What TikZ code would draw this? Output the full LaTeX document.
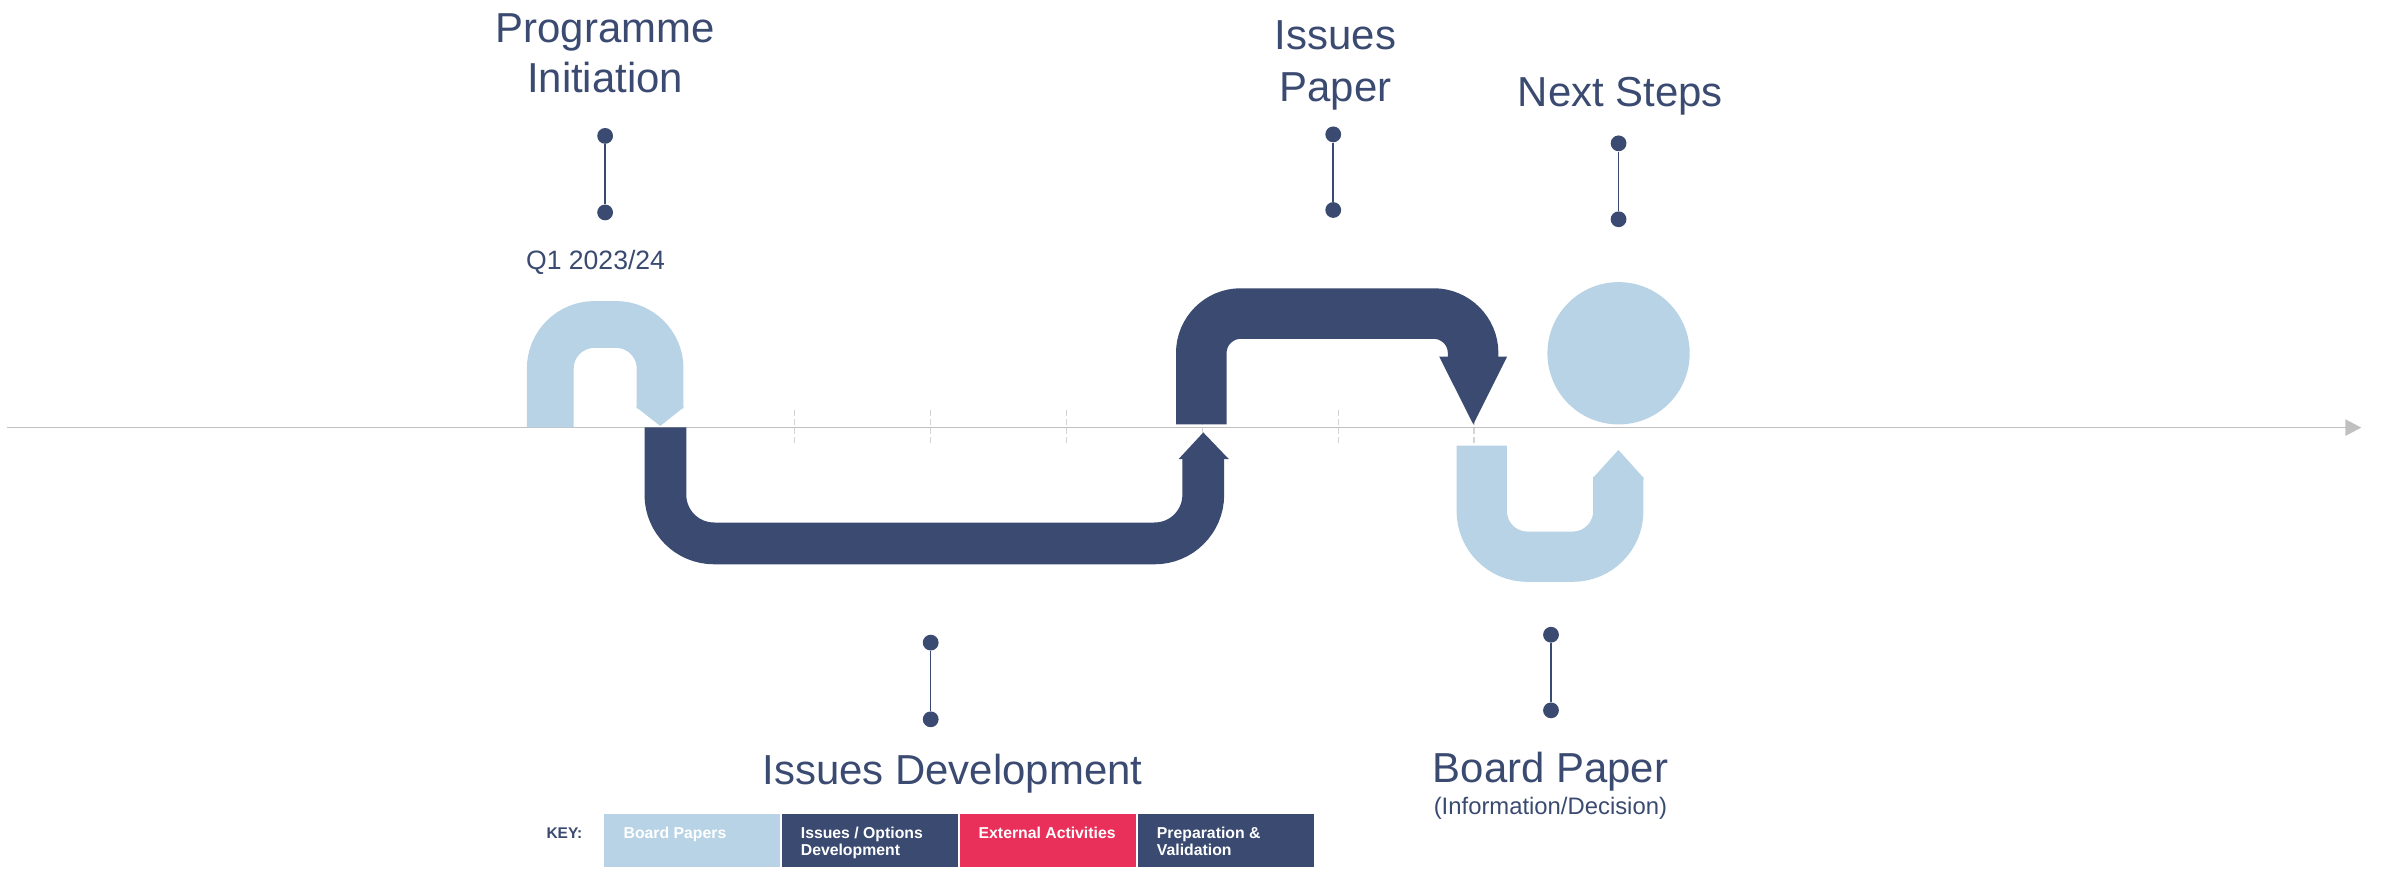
\documentclass[tikz,border=0pt]{standalone}
\usepackage{fontspec}
\setmainfont{Liberation Sans}
\usetikzlibrary{arrows.meta}
\definecolor{navy}{RGB}{58,74,112}
\definecolor{lightblue}{RGB}{184,211,229}
\definecolor{crimson}{RGB}{232,48,90}
\definecolor{axisgray}{RGB}{192,192,192}
\definecolor{tickgray}{RGB}{212,212,212}
\begin{document}
\begin{tikzpicture}[x=1pt,y=-1pt,
  title/.style={anchor=base, text=navy, inner sep=0pt, font=\fontsize{27.6}{33}\selectfont},
  subtitle/.style={anchor=base, text=navy, inner sep=0pt, font=\fontsize{#1}{#1}\selectfont},
  dot/.style={circle, fill=navy, inner sep=0pt, minimum size=10.4pt},
  conn/.style={draw=navy, line width=1pt},
  tickline/.style={draw=tickgray, line width=0.7pt, dash pattern=on 4pt off 2pt},
  keybox/.style={inner sep=0pt, minimum width=115.6pt, minimum height=34.7pt},
  keytext/.style={anchor=base west, text=white, inner sep=0pt, font=\fontsize{10.4}{12}\selectfont\bfseries},
  band/.style={line width=#1, line cap=butt, line join=miter}
]
\fill[white] (0,0) rectangle (1568,574.25);
\useasboundingbox (0,0) rectangle (1568,574.25);

% ticks and axis
\foreach \x in {523.2,612.7,702.2,791.7,881.2,970.7}
  \draw[tickline] (\x,270) -- (\x,293);
\coordinate (axstart) at (4.8,281.6);
\coordinate (axend) at (1555,281.6);
\draw[axisgray, line width=1.1pt, -{Triangle[length=10.5pt,width=10.7pt]}] (axstart) -- (axend);

% light U 1 (Programme Initiation)
\draw[lightblue, band=30.8pt, rounded corners=29pt] (362.4,281.5) -- (362.4,213.7) -- (434.7,213.7) -- (434.7,268.9);
\fill[lightblue] (419.3,267.5) -- (450.1,267.5) -- (450.1,268.4) -- (434.8,280.5) -- (419.3,268.4) -- cycle;

% dark path 1 (Issues Development)
\draw[navy, band=27.5pt, rounded corners=32pt] (438.2,281.5) -- (438.2,357.85) -- (792.4,357.85) -- (792.4,302.0);
\fill[navy] (776.1,302.4) -- (809.3,302.4) -- (792.4,284.8) -- cycle;

% dark path 2 (Issues Paper)
\draw[navy, band=33.3pt, rounded corners=26pt] (791.1,279.5) -- (791.1,206.5) -- (970.1,206.5) -- (970.1,235.4);
\fill[navy] (947.8,234.9) -- (992.5,234.9) -- (970.2,279.4) -- cycle;

% circle (Next Steps)
\fill[lightblue] (1065.9,232.65) circle (46.85pt);

% light U 2 (Board Paper)
\draw[lightblue, band=33.1pt, rounded corners=30pt] (975.8,293.5) -- (975.8,366.6) -- (1065.7,366.6) -- (1065.7,314.1);
\fill[lightblue] (1049.15,316) -- (1049.15,314.6) -- (1065.8,296.3) -- (1082.25,314.6) -- (1082.25,316) -- cycle;

% titles
\node[title] (prog1) at (398.5,27.7) {Programme};
\node[title] (prog2) at (398.5,61.2) {Initiation};
\node[subtitle=17.5] (q1) at (392.2,177.7) {Q1 2023/24};
\node[title] (ip1) at (879.5,32.9) {Issues};
\node[title] (ip2) at (879.5,67.0) {Paper};
\node[title] (ns) at (1067.1,70.2) {Next Steps};
\node[title] (idv) at (627.3,516.3) {Issues Development};
\node[title] (bp) at (1021,515.4) {Board Paper};
\node[subtitle=15.7] (bpi) at (1021,536.7) {(Information/Decision)};

% dot connectors
\node[dot] (pa) at (398.5,89.5) {};
\node[dot] (pb) at (398.5,139.9) {};
\draw[conn] (pa) -- (pb);
\node[dot] (ipa) at (878,88.5) {};
\node[dot] (ipb) at (878,138.3) {};
\draw[conn] (ipa) -- (ipb);
\node[dot] (nsa) at (1065.9,94.4) {};
\node[dot] (nsb) at (1065.9,144.4) {};
\draw[conn] (nsa) -- (nsb);
\node[dot] (ida) at (612.9,423.2) {};
\node[dot] (idb) at (612.9,473.7) {};
\draw[conn] (ida) -- (idb);
\node[dot] (bpa) at (1021.4,418) {};
\node[dot] (bpb) at (1021.4,467.8) {};
\draw[conn] (bpa) -- (bpb);

% key
\node[anchor=base, text=navy, inner sep=0pt, font=\fontsize{10.2}{12}\selectfont\bfseries] (key) at (371.7,552.1) {KEY:};
\node[keybox, fill=lightblue] (k1) at (455.7,553.35) {};
\node[keybox, fill=navy] (k2) at (572.9,553.35) {};
\node[keybox, fill=crimson] (k3) at (690.1,553.35) {};
\node[keybox, fill=navy] (k4) at (807.3,553.35) {};
\node[keytext] (k1t) at (410.5,552.1) {Board Papers};
\node[keytext] (k2t) at (527.2,552.1) {Issues / Options};
\node[keytext] (k2u) at (527.2,563.7) {Development};
\node[keytext] (k3t) at (644.3,552.1) {External Activities};
\node[keytext] (k4t) at (761.7,552.1) {Preparation \&};
\node[keytext] (k4u) at (761.7,563.7) {Validation};
\end{tikzpicture}
\end{document}
